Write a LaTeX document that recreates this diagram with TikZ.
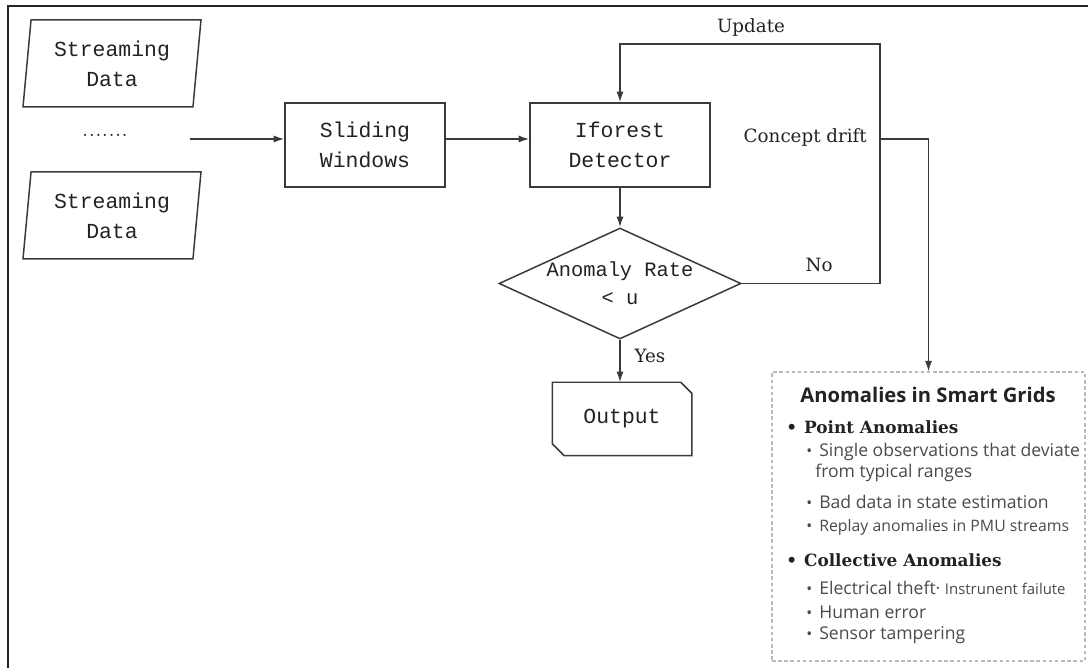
\documentclass[tikz,border=0pt]{standalone}
\usepackage{fontspec}
\setmonofont{Liberation Mono}
\setsansfont{Open Sans}
\newfontfamily\lblfont{DejaVu Serif}
\usetikzlibrary{shapes.geometric,arrows.meta}
\definecolor{linecol}{HTML}{3A3A3A}
\definecolor{textcol}{HTML}{222222}
\definecolor{itemcol}{HTML}{4A4A4A}
\newcommand{\subbul}{{\fontsize{9}{10}\selectfont\textbullet}\hspace{4pt}}
\tikzset{
    box/.style={draw=linecol, line width=0.85pt, text=textcol, align=center,
        font=\ttfamily\fontsize{12.2}{17}\selectfont, inner sep=0pt},
    databox/.style={box, trapezium, trapezium left angle=80, trapezium right angle=100,
        trapezium stretches body, minimum width=3.56cm, minimum height=1.74cm},
    arr/.style={draw=linecol, line width=0.85pt, -{Latex[length=6pt,width=4pt]}},
    lbl/.style={text=textcol, font=\lblfont\fontsize{10.4}{12}\selectfont},
    hdtext/.style={anchor=west, text=textcol, inner sep=0pt,
        font=\lblfont\bfseries\fontsize{9.6}{12}\selectfont},
    itemtext/.style={anchor=west, text=itemcol, inner sep=0pt,
        font=\sffamily\fontsize{10}{12}\selectfont},
}
\begin{document}
\begin{tikzpicture}
    \useasboundingbox (0,0) rectangle (21.76,13.36);
    \draw[line width=1.2pt, black!85] (0.16,0) -- (0.16,13.24) -- (21.76,13.24);

    \node[databox] (sd1) at (2.24,12.09) {Streaming\\Data};
    \node[databox] (sd2) at (2.24,9.05) {Streaming\\Data};
    \node[text=textcol, font=\fontsize{15}{16}\selectfont] (dots) at (2.1,10.66) {.......};
    \coordinate (in) at (3.8,10.58);

    \node[box, minimum width=3.2cm, minimum height=1.68cm] (slide) at (7.3,10.46) {Sliding\\Windows};
    \node[box, minimum width=3.6cm, minimum height=1.68cm] (iforest) at (12.4,10.46) {Iforest\\Detector};
    \node[box, diamond, aspect=2.18, minimum width=4.84cm, minimum height=2.22cm,
        font=\ttfamily\fontsize{11.6}{16}\selectfont] (dia) at (12.4,7.69) {Anomaly Rate\\< u};
    \node[box, draw=none, minimum width=2.76cm, minimum height=1.44cm] (out) at (12.44,4.98) {Output};
    \draw[linecol, line width=0.85pt] (out.north west) -- ([xshift=-0.22cm]out.north east)
        -- ([yshift=-0.22cm]out.north east) -- (out.south east)
        -- ([xshift=0.24cm]out.south west) -- ([yshift=0.24cm]out.south west) -- cycle;

    \node[draw=gray!55, dash pattern=on 2pt off 1.5pt, line width=0.6pt,
        minimum width=6.26cm, minimum height=5.78cm] (anom) at (18.57,3.03) {};

    \coordinate (loop) at (17.6,12.48);
    \coordinate (drift) at (17.6,10.58);
    \node[lbl] (upd) at (15.02,12.82) {Update};
    \node[lbl, anchor=east] (cd) at (17.46,10.62) {Concept drift};
    \node[lbl] (no) at (16.38,8.06) {No};
    \node[lbl] (yes) at (13.0,6.24) {Yes};

    \draw[arr] (in) -- (slide.west |- in);
    \draw[arr] (slide.east |- in) -- (iforest.west |- in);
    \draw[arr] (iforest.south) -- (dia.north);
    \draw[arr] (dia.south) -- (dia.south |- out.north);
    \draw[arr] (dia.east) -| (loop) -| (iforest.north);
    \draw[arr] (drift) -| (anom.north);

    \node[text=textcol, font=\sffamily\bfseries\fontsize{11.5}{14}\selectfont] (title) at (18.56,5.46) {Anomalies in Smart Grids};
    \node[hdtext] (pt) at (15.72,4.82) {\textbullet\hspace{4pt}Point Anomalies};
    \node[itemtext] (pt1) at (16.12,4.32) {\subbul Single observations that deviate};
    \node[itemtext] (pt1b) at (16.3,3.9) {from typical ranges};
    \node[itemtext] (pt2) at (16.12,3.32) {\subbul Bad data in state estimation};
    \node[itemtext, font=\sffamily\fontsize{9}{11}\selectfont] (pt3) at (16.12,2.82) {\subbul Replay anomalies in PMU streams};
    \node[hdtext] (co) at (15.72,2.16) {\textbullet\hspace{4pt}Collective Anomalies};
    \node[itemtext] (co1) at (16.12,1.6) {\subbul Electrical theft\textperiodcentered\ {\fontsize{8.5}{10}\selectfont Instrunent failute}};
    \node[itemtext] (co2) at (16.12,1.12) {\subbul Human error};
    \node[itemtext] (co3) at (16.12,0.66) {\subbul Sensor tampering};
\end{tikzpicture}
\end{document}
